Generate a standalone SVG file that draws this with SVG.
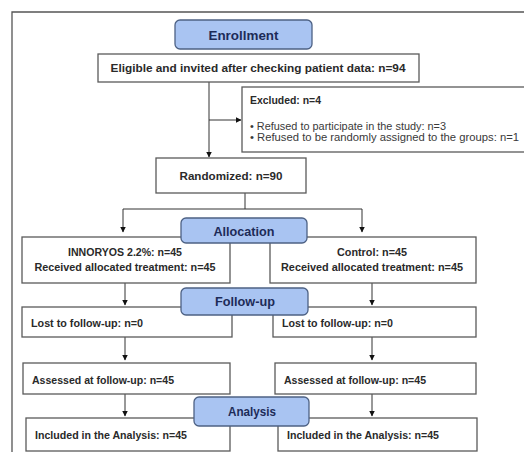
<svg xmlns="http://www.w3.org/2000/svg" width="524" height="452" viewBox="0 0 524 452">
<style>
.box{fill:#fff;stroke:#5a5a5a;stroke-width:1.3}
.stage{fill:#a9c4f2;stroke:#4d6184;stroke-width:1.3}
.t{font-family:"Liberation Sans",Arial,sans-serif;font-weight:bold;font-size:10.5px;fill:#2a2a2a}
.s{font-family:"Liberation Sans",Arial,sans-serif;font-size:10px;fill:#3a3a3a}
.h{font-family:"Liberation Sans",Arial,sans-serif;font-weight:bold;font-size:13px;fill:#1d2b58}
.c{fill:none;stroke:#333;stroke-width:1}
</style>
<defs>
<marker id="ah" markerWidth="6" markerHeight="6" refX="5.5" refY="3" orient="auto" markerUnits="userSpaceOnUse">
<path d="M0,0 L6,3 L0,6 Z" fill="#111"/>
</marker>
</defs>
<rect width="524" height="452" fill="#fff"/>
<path d="M12,452 V12 H524" fill="none" stroke="#555" stroke-width="1.3"/>
<g id="connectors">
<path class="c" d="M209,82 V157" marker-end="url(#ah)"/>
<path class="c" d="M209,120 H241" marker-end="url(#ah)"/>
<path class="c" d="M245,193 V209 M123,209 H362"/>
<path class="c" d="M123,209 V232" marker-end="url(#ah)"/>
<path class="c" d="M362,209 V232" marker-end="url(#ah)"/>
<path class="c" d="M125,283 V305" marker-end="url(#ah)"/>
<path class="c" d="M372,283 V305" marker-end="url(#ah)"/>
<path class="c" d="M125,337 V360" marker-end="url(#ah)"/>
<path class="c" d="M372,337 V360" marker-end="url(#ah)"/>
<path class="c" d="M125,394 V416" marker-end="url(#ah)"/>
<path class="c" d="M372,394 V416" marker-end="url(#ah)"/>
</g>
<g id="eligible">
<rect class="box" x="98" y="54" width="321" height="28"/>
<text class="t" x="258" y="72" text-anchor="middle" textLength="295" lengthAdjust="spacingAndGlyphs">Eligible and invited after checking patient data: n=94</text>
</g>
<g id="excluded">
<rect class="box" x="242" y="87" width="300" height="65"/>
<text class="t" x="250" y="104" textLength="71" lengthAdjust="spacingAndGlyphs">Excluded: n=4</text>
<text class="s" x="250" y="130" textLength="196" lengthAdjust="spacingAndGlyphs">• Refused to participate in the study: n=3</text>
<text class="s" x="250" y="141" textLength="269" lengthAdjust="spacingAndGlyphs">• Refused to be randomly assigned to the groups: n=1</text>
</g>
<g id="randomized">
<rect class="box" x="156" y="158" width="150" height="35"/>
<text class="t" x="231" y="180" text-anchor="middle" textLength="103" lengthAdjust="spacingAndGlyphs">Randomized: n=90</text>
</g>
<g id="innoryos">
<rect class="box" x="22" y="237" width="208" height="46"/>
<text class="t" x="125" y="256" text-anchor="middle" textLength="114" lengthAdjust="spacingAndGlyphs">INNORYOS 2.2%: n=45</text>
<text class="t" x="125" y="271" text-anchor="middle" textLength="181" lengthAdjust="spacingAndGlyphs">Received allocated treatment: n=45</text>
</g>
<g id="control">
<rect class="box" x="270" y="237" width="206" height="46"/>
<text class="t" x="372" y="256" text-anchor="middle" textLength="70" lengthAdjust="spacingAndGlyphs">Control: n=45</text>
<text class="t" x="372" y="271" text-anchor="middle" textLength="182" lengthAdjust="spacingAndGlyphs">Received allocated treatment: n=45</text>
</g>
<g id="lost-left">
<rect class="box" x="22" y="307" width="210" height="30"/>
<text class="t" x="31" y="327" textLength="112" lengthAdjust="spacingAndGlyphs">Lost to follow-up: n=0</text>
</g>
<g id="lost-right">
<rect class="box" x="273" y="307" width="203" height="30"/>
<text class="t" x="282" y="327" textLength="111" lengthAdjust="spacingAndGlyphs">Lost to follow-up: n=0</text>
</g>
<g id="assessed-left">
<rect class="box" x="23" y="363" width="207" height="31"/>
<text class="t" x="32" y="384" textLength="142" lengthAdjust="spacingAndGlyphs">Assessed at follow-up: n=45</text>
</g>
<g id="assessed-right">
<rect class="box" x="275" y="363" width="201" height="31"/>
<text class="t" x="284" y="384" textLength="142" lengthAdjust="spacingAndGlyphs">Assessed at follow-up: n=45</text>
</g>
<g id="included-left">
<rect class="box" x="26" y="418" width="204" height="33"/>
<text class="t" x="35" y="439" textLength="152" lengthAdjust="spacingAndGlyphs">Included in the Analysis: n=45</text>
</g>
<g id="included-right">
<rect class="box" x="278" y="418" width="199" height="33"/>
<text class="t" x="287" y="439" textLength="152" lengthAdjust="spacingAndGlyphs">Included in the Analysis: n=45</text>
</g>
<g id="enrollment">
<rect class="stage" x="175" y="20" width="137" height="29" rx="5"/>
<text class="h" x="243.5" y="39.5" text-anchor="middle" textLength="70" lengthAdjust="spacingAndGlyphs">Enrollment</text>
</g>
<g id="allocation">
<rect class="stage" x="181" y="218" width="126" height="25" rx="5"/>
<text class="h" x="244" y="235.5" text-anchor="middle" textLength="61" lengthAdjust="spacingAndGlyphs">Allocation</text>
</g>
<g id="follow-up">
<rect class="stage" x="181" y="288" width="127" height="27" rx="5"/>
<text class="h" x="245" y="306" text-anchor="middle" textLength="60" lengthAdjust="spacingAndGlyphs">Follow-up</text>
</g>
<g id="analysis">
<rect class="stage" x="194" y="397" width="115" height="29" rx="5"/>
<text class="h" x="252" y="416" text-anchor="middle" textLength="48" lengthAdjust="spacingAndGlyphs">Analysis</text>
</g>
</svg>
